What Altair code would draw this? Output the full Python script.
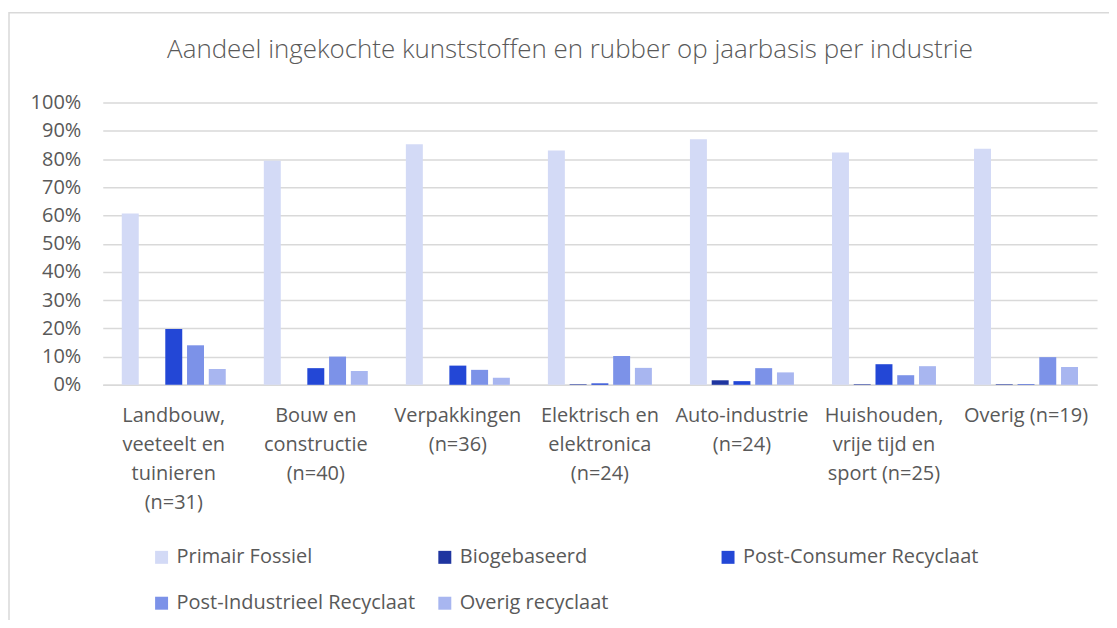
import altair as alt
import pandas as pd

categories = [
    "Landbouw,|veeteelt en|tuinieren|(n=31)",
    "Bouw en|constructie|(n=40)",
    "Verpakkingen|(n=36)",
    "Elektrisch en|elektronica|(n=24)",
    "Auto-industrie|(n=24)",
    "Huishouden,|vrije tijd en|sport (n=25)",
    "Overig (n=19)",
]
series = [
    "Primair Fossiel",
    "Biogebaseerd",
    "Post-Consumer Recyclaat",
    "Post-Industrieel Recyclaat",
    "Overig recyclaat",
]
primair = [60.7, 79.4, 85.2, 83.0, 87.0, 82.3, 83.6]
bio = [0.0, 0.0, 0.0, 0.2, 1.6, 0.2, 0.2]
post_consumer = [19.8, 5.9, 6.8, 0.5, 1.3, 7.3, 0.2]
post_industrieel = [14.0, 10.0, 5.3, 10.2, 5.9, 3.4, 9.8]
overig = [5.6, 4.9, 2.5, 6.0, 4.4, 6.6, 6.3]
colors = ["#D3DAF6", "#1F35A0", "#2347D6", "#7C92E8", "#A8B6F0"]
y_ticks = list(range(0, 101, 10))
title_text = "Aandeel ingekochte kunststoffen en rubber op jaarbasis per industrie"

values = [primair, bio, post_consumer, post_industrieel, overig]
rows = []
for s, vals in zip(series, values):
    for c, v in zip(categories, vals):
        rows.append({"cat": c, "serie": s, "waarde": v})
df = pd.DataFrame(rows)

FONT = "Open Sans"
TXT = "#595959"
GRID = "#D9D9D9"

bars = alt.Chart(df).mark_bar().encode(
    x=alt.X(
        "cat:N",
        sort=categories,
        title=None,
        scale=alt.Scale(paddingInner=0, paddingOuter=0),
        axis=alt.Axis(
            labelAngle=0,
            labelExpr="split(datum.label, '|')",
            labelLineHeight=29,
            labelPadding=21,
            labelFontSize=20,
            labelFont=FONT,
            labelColor=TXT,
            ticks=False,
            grid=False,
            domainColor=GRID,
            domainWidth=1.5,
            labelBound=False,
            labelOverlap=False,
            labelLimit=300,
        ),
    ),
    xOffset=alt.XOffset(
        "serie:N",
        sort=series,
        scale=alt.Scale(paddingInner=0.22, paddingOuter=0.875),
    ),
    y=alt.Y(
        "waarde:Q",
        title=None,
        scale=alt.Scale(domain=[0, 100], nice=False),
        axis=alt.Axis(
            values=y_ticks,
            labelExpr="datum.value + '%'",
            labelFontSize=20,
            labelFont=FONT,
            labelColor=TXT,
            labelPadding=22,
            ticks=False,
            domain=False,
            gridColor=GRID,
            gridWidth=1.5,
        ),
    ),
    color=alt.Color(
        "serie:N",
        sort=series,
        scale=alt.Scale(domain=series, range=colors),
        legend=alt.Legend(
            title=None,
            orient="none",
            legendX=49,
            legendY=446,
            direction="horizontal",
            columns=3,
            gridAlign="all",
            symbolType="square",
            symbolSize=169,
            symbolStrokeWidth=0,
            labelFontSize=20,
            labelFont=FONT,
            labelColor=TXT,
            labelOffset=5,
            columnPadding=19,
            rowPadding=26,
            labelLimit=400,
        ),
    ),
)

border = alt.Chart(pd.DataFrame({"a": [0]})).mark_rect(
    fill=None, stroke=GRID, strokeWidth=1.5
).encode(
    x=alt.value(-94), x2=alt.value(1100), y=alt.value(-90), y2=alt.value(600)
)

chart = alt.layer(border, bars).properties(
    width=997,
    height=283,
    autosize=alt.AutoSizeParams(type="none"),
    padding={"left": 95, "top": 94, "right": 12, "bottom": 235},
    title=alt.TitleParams(
        title_text,
        anchor="middle",
        dx=-30,
        offset=-51,
        fontSize=26,
        fontWeight=300,
        font=FONT,
        color=TXT,
    ),
).configure_view(stroke=None)

chart.save("out.html", embed_options={"renderer": "svg", "actions": False})
